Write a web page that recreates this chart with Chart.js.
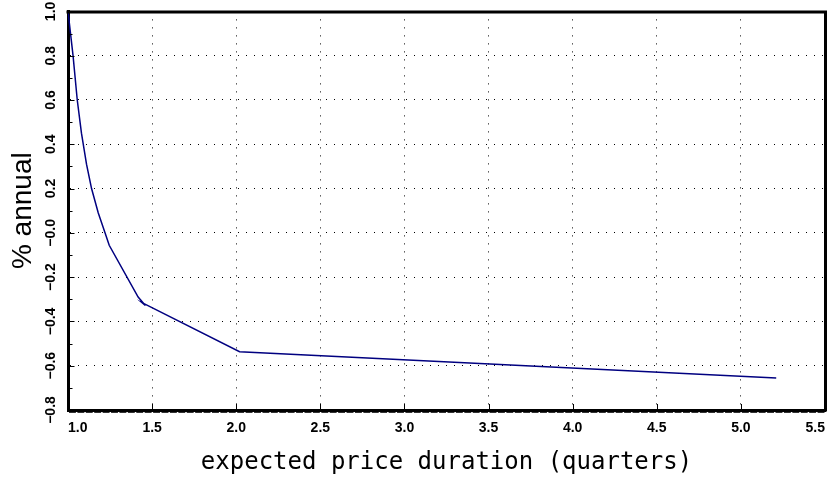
<!DOCTYPE html>
<html>
<head>
<meta charset="utf-8">
<script src="https://cdn.jsdelivr.net/npm/chart.js@4/dist/chart.umd.min.js"></script>
<style>
  html, body { margin: 0; padding: 0; background: #ffffff; }
  canvas { display: block; }
</style>
</head>
<body>
<canvas id="chart" width="837" height="480"></canvas>
<script>
// Expected price duration (quarters) and the annual response (%)
const duration = [1.0, 1.03, 1.055, 1.08, 1.11, 1.14, 1.18, 1.22, 1.245, 1.417, 1.46, 1.44, 2.02, 5.21];
const response = [1.0, 0.8, 0.6, 0.45, 0.31, 0.2, 0.09, 0.0, -0.056, -0.29, -0.328, -0.315, -0.537, -0.656];

// Axis tick labels
const xTickLabels = ['1.0', '1.5', '2.0', '2.5', '3.0', '3.5', '4.0', '4.5', '5.0', '5.5'];
const yTickLabels = ['\u22120.8', '\u22120.6', '\u22120.4', '\u22120.2', '\u22120.0', '0.2', '0.4', '0.6', '0.8', '1.0'];

const points = duration.map((d, i) => ({ x: d, y: response[i] }));

// Frame, inward tick marks and minor ticks around the plot area
const framePlugin = {
  id: 'frame',
  afterDraw(chart) {
    const { ctx, chartArea: a, scales: { x, y } } = chart;
    ctx.save();
    ctx.strokeStyle = '#000000';
    // top and right edges of the frame
    ctx.lineWidth = 3;
    ctx.beginPath();
    ctx.moveTo(a.left - 1.5, a.top + 0.5);
    ctx.lineTo(a.right + 0.5, a.top + 0.5);
    ctx.lineTo(a.right + 0.5, a.bottom + 1.5);
    ctx.stroke();

    ctx.lineWidth = 1;
    // y ticks: major every 0.2, minor at the odd tenths
    for (let k = -8; k <= 10; k++) {
      const py = Math.round(y.getPixelForValue(k / 10)) + 0.5;
      const len = (k % 2 === 0) ? 5 : 3;
      ctx.beginPath();
      ctx.moveTo(a.left, py);
      ctx.lineTo(a.left + 1.5 + len, py);
      ctx.stroke();
    }
    // x ticks: major every 0.5, inward
    for (let k = 2; k <= 11; k++) {
      const px = Math.round(x.getPixelForValue(k / 2)) + 0.5;
      ctx.beginPath();
      ctx.moveTo(px, a.bottom);
      ctx.lineTo(px, a.bottom - 6);
      ctx.stroke();
    }
    // minor x ticks every 0.05 below the axis line
    ctx.strokeStyle = '#333333';
    const yb = a.bottom + 2.5;
    for (let k = 20; k < 110; k++) {
      const p0 = x.getPixelForValue(k / 20);
      const p1 = x.getPixelForValue((k + 1) / 20);
      ctx.beginPath();
      ctx.moveTo(p0 + 1, yb);
      ctx.lineTo(p1 - 0.5, yb);
      ctx.stroke();
    }
    ctx.restore();
  }
};

new Chart(document.getElementById('chart'), {
  type: 'line',
  data: {
    datasets: [{
      data: points,
      borderColor: '#000080',
      borderWidth: 1.5,
      pointRadius: 0,
      tension: 0,
      fill: false
    }]
  },
  options: {
    responsive: false,
    devicePixelRatio: 1,
    animation: false,
    layout: { padding: { left: 0, top: 11, right: 12, bottom: 0 } },
    plugins: {
      legend: { display: false },
      tooltip: { enabled: false }
    },
    scales: {
      x: {
        type: 'linear',
        min: 1.0,
        max: 5.5,
        afterFit(scale) { scale.height = 70; },
        ticks: {
          stepSize: 0.5,
          align: 'inner',
          padding: 10,
          color: '#000000',
          font: { family: '"Liberation Sans", Arial, sans-serif', size: 14, weight: 'bold' },
          callback: (v) => {
            const i = Math.round((v - 1) * 2);
            return xTickLabels[i];
          }
        },
        grid: {
          color: '#000000',
          lineWidth: 1,
          drawTicks: false
        },
        border: { display: true, color: '#000000', width: 3, dash: [1, 7] },
        title: {
          display: true,
          text: 'expected price duration (quarters)',
          color: '#000000',
          font: { family: '"DejaVu Sans Mono", monospace', size: 24, weight: 'normal' },
          padding: { top: 3, bottom: 3 }
        }
      },
      y: {
        type: 'linear',
        min: -0.8,
        max: 1.0,
        afterFit(scale) { scale.width = 68; },
        ticks: {
          stepSize: 0.2,
          minRotation: 90,
          maxRotation: 90,
          crossAlign: 'center',
          padding: 3,
          color: '#000000',
          font: { family: '"Liberation Sans", Arial, sans-serif', size: 14, weight: 'bold' },
          callback: (v) => {
            const i = Math.round((v + 0.8) * 5);
            return yTickLabels[i];
          }
        },
        grid: {
          color: '#000000',
          lineWidth: 1,
          drawTicks: false
        },
        border: { display: true, color: '#000000', width: 3, dash: [1, 7] },
        title: {
          display: true,
          text: '% annual',
          color: '#000000',
          font: { family: '"Liberation Sans", Arial, sans-serif', size: 28, weight: 'normal' },
          padding: { top: 6, bottom: 0 }
        }
      }
    }
  },
  plugins: [framePlugin]
});
</script>
</body>
</html>
